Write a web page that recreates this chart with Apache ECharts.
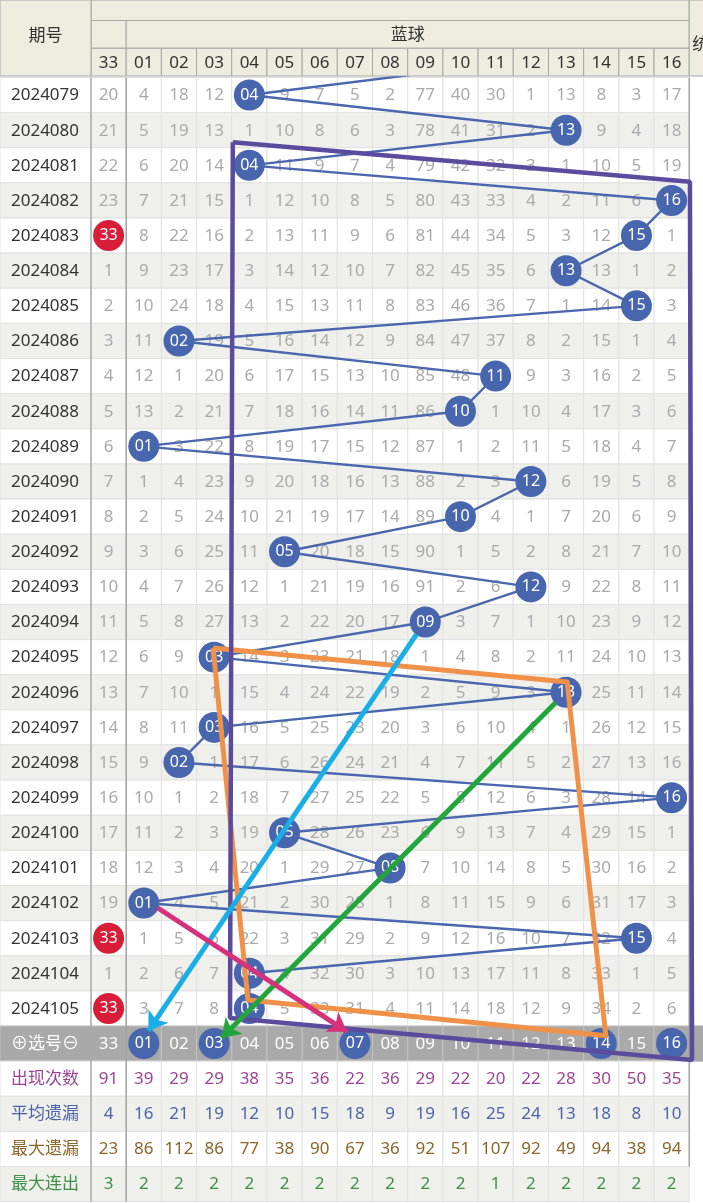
<!DOCTYPE html>
<html><head><meta charset="utf-8">
<script src="https://cdn.jsdelivr.net/npm/echarts@6/dist/echarts.min.js"></script>
<style>html,body{margin:0;padding:0;background:#fff}#c{width:703px;height:1203px}</style>
</head><body><div id="c"></div>
<script>
// ---------------- DATA ----------------
const periods = ['2024079','2024080','2024081','2024082','2024083','2024084','2024085','2024086','2024087','2024088','2024089','2024090','2024091','2024092','2024093','2024094','2024095','2024096','2024097','2024098','2024099','2024100','2024101','2024102','2024103','2024104','2024105'];
const columns = ['33','01','02','03','04','05','06','07','08','09','10','11','12','13','14','15','16'];
// omission per period per column (0 = drawn in that period)
const omissions = [
 [20,4,18,12,0,9,7,5,2,77,40,30,1,13,8,3,17],
 [21,5,19,13,1,10,8,6,3,78,41,31,2,0,9,4,18],
 [22,6,20,14,0,11,9,7,4,79,42,32,3,1,10,5,19],
 [23,7,21,15,1,12,10,8,5,80,43,33,4,2,11,6,0],
 [0,8,22,16,2,13,11,9,6,81,44,34,5,3,12,0,1],
 [1,9,23,17,3,14,12,10,7,82,45,35,6,0,13,1,2],
 [2,10,24,18,4,15,13,11,8,83,46,36,7,1,14,0,3],
 [3,11,0,19,5,16,14,12,9,84,47,37,8,2,15,1,4],
 [4,12,1,20,6,17,15,13,10,85,48,0,9,3,16,2,5],
 [5,13,2,21,7,18,16,14,11,86,0,1,10,4,17,3,6],
 [6,0,3,22,8,19,17,15,12,87,1,2,11,5,18,4,7],
 [7,1,4,23,9,20,18,16,13,88,2,3,0,6,19,5,8],
 [8,2,5,24,10,21,19,17,14,89,0,4,1,7,20,6,9],
 [9,3,6,25,11,0,20,18,15,90,1,5,2,8,21,7,10],
 [10,4,7,26,12,1,21,19,16,91,2,6,0,9,22,8,11],
 [11,5,8,27,13,2,22,20,17,0,3,7,1,10,23,9,12],
 [12,6,9,0,14,3,23,21,18,1,4,8,2,11,24,10,13],
 [13,7,10,1,15,4,24,22,19,2,5,9,3,0,25,11,14],
 [14,8,11,0,16,5,25,23,20,3,6,10,4,1,26,12,15],
 [15,9,0,1,17,6,26,24,21,4,7,11,5,2,27,13,16],
 [16,10,1,2,18,7,27,25,22,5,8,12,6,3,28,14,0],
 [17,11,2,3,19,0,28,26,23,6,9,13,7,4,29,15,1],
 [18,12,3,4,20,1,29,27,0,7,10,14,8,5,30,16,2],
 [19,0,4,5,21,2,30,28,1,8,11,15,9,6,31,17,3],
 [0,1,5,6,22,3,31,29,2,9,12,16,10,7,32,0,4],
 [1,2,6,7,0,4,32,30,3,10,13,17,11,8,33,1,5],
 [0,3,7,8,0,5,33,31,4,11,14,18,12,9,34,2,6]
];
const prevPeriodBlue = '12';           // blue ball of the period just above 2024079
const selection = ['01','03','07','14','16'];
const selectLabel = '⊕选号⊖';
const statLabels = ['出现次数','平均遗漏','最大遗漏','最大连出'];
const appearCount = [91,39,29,29,38,35,36,22,36,29,22,20,22,28,30,50,35];
const avgOmission = [4,16,21,19,12,10,15,18,9,19,16,25,24,13,18,8,10];
const maxOmission = [23,86,112,86,77,38,90,67,36,92,51,107,92,49,94,38,94];
const maxStreak   = [3,2,2,2,2,2,2,2,2,2,2,1,2,2,2,2,2];
const headerTitle = '期号';
const groupTitle = '蓝球';
// hand-drawn annotations, in (column index, row index) units
const purpleBox = [[3.53,1.34],[16.52,2.47],[16.58,27.47],[3.45,26.27],[3.53,1.34]];
const orangeBox = [[2.97,15.74],[13.03,16.71],[14.13,26.78],[3.96,25.76],[2.97,15.74]];
const cyanArrow = [[8.75,15.35],[1.13,26.64]];
const greenArrow = [[12.70,17.30],[3.21,26.84]];
const pinkArrow = [[1.40,23.14],[6.77,26.66]];

// ---------------- LAYOUT / STYLE ----------------
const FONT = '"Noto Sans","Noto Sans CJK SC",sans-serif';
const W = 703, COLW = 35.19, ROWH = 35.13;
const LEFT = 91, TOP = 77.5, HEAD_H = 76;
const NROWS = periods.length + 1 + statLabels.length;
const XMAX = -0.5 + (W - LEFT) / COLW;
const SEL_ROW = periods.length;
const statColors = ['#9c4494','#4b64a9','#8b6529','#3e9146'];
const statValues = [appearCount, avgOmission, maxOmission, maxStreak];
const BLUE = '#4766ae', RED = '#d71d38', BEIGE = '#eeebdf', GRAYROW = '#efefeb', SELGRAY = '#a9a9a9';
const HEDGES = [0, 0.27, 0.635, 1];

function rectOf(api, x0, x1, y0, y1) {
  const a = api.coord([x0, y0]), b = api.coord([x1, y1]);
  return {x: Math.min(a[0], b[0]), y: Math.min(a[1], b[1]), width: Math.abs(b[0]-a[0]), height: Math.abs(b[1]-a[1])};
}
function txt(t, x, y, fill, size, align) {
  return {type:'text', style:{text:t, x:x, y:y, fill:fill, fontSize:size||17, fontFamily:FONT,
    align:align||'center', verticalAlign:'middle', textAlign:align||'center', textVerticalAlign:'middle'}};
}
function rowFill(r){ return r === SEL_ROW ? SELGRAY : (r % 2 ? GRAYROW : '#ffffff'); }

// ---------- main body cells ----------
const bodyCells = [];
for (let r = 0; r < NROWS; r++) {
  for (let c = 0; c < columns.length; c++) {
    let t = null, color = '#aaaaaa';
    if (r < SEL_ROW) { const v = omissions[r][c]; if (v !== 0) t = String(v); }
    else if (r === SEL_ROW) { if (selection.indexOf(columns[c]) < 0) { t = columns[c]; color = '#ffffff'; } }
    else { const k = r - SEL_ROW - 1; t = String(statValues[k][c]); color = statColors[k]; }
    bodyCells.push({x0:c-0.5, x1:c+0.5, r:r, fill:rowFill(r), stroke: r === SEL_ROW ? '#c2c2c2' : '#e1e1e1', t:t, color:color});
  }
}
bodyCells.push({x0:16.5, x1:XMAX, r:SEL_ROW, fill:SELGRAY, stroke:SELGRAY, t:null});

// ---------- period column ----------
const periodCells = [];
for (let r = 0; r < NROWS; r++) {
  let t, color = '#333333';
  if (r < SEL_ROW) t = periods[r];
  else if (r === SEL_ROW) { t = selectLabel; color = '#ffffff'; }
  else { t = statLabels[r-SEL_ROW-1]; color = statColors[r-SEL_ROW-1]; }
  periodCells.push({r:r, t:t, color:color, fill:rowFill(r)});
}

// ---------- header ----------
const headerCells = [];
headerCells.push({x0:-0.5, x1:16.5, y0:HEDGES[0], y1:HEDGES[1], t:null});
headerCells.push({x0:-0.5, x1:0.5, y0:HEDGES[1], y1:HEDGES[2], t:null});
headerCells.push({x0:0.5, x1:16.5, y0:HEDGES[1], y1:HEDGES[2], t:groupTitle});
columns.forEach((c, i) => headerCells.push({x0:i-0.5, x1:i+0.5, y0:HEDGES[2], y1:HEDGES[3], t:c}));
headerCells.push({x0:16.5, x1:XMAX+1, y0:0, y1:1, t:'统', left:true});

// ---------- balls & trend ----------
const balls = [];
const trend = [[columns.indexOf(prevPeriodBlue), -1]];
omissions.forEach((row, r) => {
  if (row[0] === 0) balls.push({value:[0, r], name:columns[0], itemStyle:{color:RED, opacity:1}});
  for (let c = 1; c < row.length; c++) if (row[c] === 0) {
    balls.push({value:[c, r], name:columns[c], itemStyle:{color:BLUE, opacity:1}});
    trend.push([c, r]);
  }
});
selection.forEach(s => balls.push({value:[columns.indexOf(s), SEL_ROW], name:s, itemStyle:{color:BLUE, opacity:1}}));

const chart = echarts.init(document.getElementById('c'), null, {renderer:'canvas'});
const yBody = {min:-0.5, max:NROWS-0.5, inverse:true, show:false};
chart.setOption({
  animation:false,
  backgroundColor:'#ffffff',
  grid:[
    {left:LEFT, top:TOP, width:W-LEFT, height:NROWS*ROWH},
    {left:0, top:TOP, width:LEFT, height:NROWS*ROWH},
    {left:LEFT, top:0, width:W-LEFT, height:HEAD_H},
    {left:0, top:0, width:LEFT, height:HEAD_H}
  ],
  xAxis:[
    {gridIndex:0, type:'value', min:-0.5, max:XMAX, show:false},
    {gridIndex:1, type:'value', min:-0.5, max:0.5, show:false},
    {gridIndex:2, type:'value', min:-0.5, max:XMAX, show:false},
    {gridIndex:3, type:'value', min:-0.5, max:0.5, show:false}
  ],
  yAxis:[
    Object.assign({gridIndex:0, type:'value'}, yBody),
    Object.assign({gridIndex:1, type:'value'}, yBody),
    {gridIndex:2, type:'value', min:0, max:1, inverse:true, show:false},
    {gridIndex:3, type:'value', min:0, max:1, inverse:true, show:false}
  ],
  series:[
    { // body cells
      type:'custom', xAxisIndex:0, yAxisIndex:0, z:1, silent:true,
      data: bodyCells.map(d => [(d.x0+d.x1)/2, d.r]),
      renderItem:(p, api) => {
        const d = bodyCells[p.dataIndex];
        const rc = rectOf(api, d.x0, d.x1, d.r-0.5, d.r+0.5);
        const ch = [{type:'rect', shape:rc, style:{fill:d.fill, stroke:d.stroke, lineWidth:1}}];
        if (d.t) ch.push(txt(d.t, rc.x+rc.width/2, rc.y+rc.height/2+0.5, d.color, 17));
        return {type:'group', children:ch};
      }
    },
    { // column separators
      type:'custom', xAxisIndex:0, yAxisIndex:0, z:3, silent:true,
      data:[[-0.5, NROWS-0.5], [0.5, NROWS-0.5], [16.5, NROWS-1.5]],
      renderItem:(p, api) => {
        const a = api.coord([api.value(0), -0.5]), b = api.coord([api.value(0), api.value(1)]);
        const col = ['#a3a3a3','#9a9a9a','#9a9a9a'][p.dataIndex];
        return {type:'line', shape:{x1:a[0], y1:a[1], x2:b[0], y2:b[1]}, style:{stroke:col, lineWidth:1.3}};
      }
    },
    { // trend line
      type:'line', xAxisIndex:0, yAxisIndex:0, z:4, data:trend, symbol:'none', clip:true, silent:true,
      lineStyle:{color:'#4a67ad', width:2.4}
    },
    { // balls
      type:'scatter', xAxisIndex:0, yAxisIndex:0, z:5, data:balls, symbolSize:31, silent:true,
      itemStyle:{opacity:1},
      label:{show:true, position:'inside', formatter:'{b}', color:'#fff', fontSize:16, fontFamily:FONT}
    },
    {
      type:'line', xAxisIndex:0, yAxisIndex:0, z:6, data:orangeBox, symbol:'none', silent:true,
      lineStyle:{color:'#f0914a', width:5, join:'round'}
    },
    {
      type:'line', xAxisIndex:0, yAxisIndex:0, z:6, data:purpleBox, symbol:'none', silent:true,
      lineStyle:{color:'#5b4b9d', width:4.5}
    },
    {
      type:'lines', coordinateSystem:'cartesian2d', xAxisIndex:0, yAxisIndex:0, z:7, silent:true,
      symbol:['none','arrow'], symbolSize:[1,18],
      data:[
        {coords:cyanArrow, lineStyle:{color:'#1aaee6', width:5}},
        {coords:greenArrow, lineStyle:{color:'#22a63b', width:5}},
        {coords:pinkArrow, lineStyle:{color:'#d6327b', width:5}}
      ],
      lineStyle:{opacity:1, curveness:0}
    },
    { // period column
      type:'custom', xAxisIndex:1, yAxisIndex:1, z:1, silent:true,
      data: periodCells.map(d => [0, d.r]),
      renderItem:(p, api) => {
        const d = periodCells[p.dataIndex];
        const rc = rectOf(api, -0.5, 0.5, d.r-0.5, d.r+0.5);
        return {type:'group', children:[
          {type:'rect', shape:rc, style:{fill:d.fill, stroke: d.r === SEL_ROW ? '#c2c2c2' : '#e1e1e1', lineWidth:1}},
          txt(d.t, rc.x+rc.width/2 - 0.5, rc.y+rc.height/2+0.5, d.color, 17)
        ]};
      }
    },
    { // header
      type:'custom', xAxisIndex:2, yAxisIndex:2, z:1, silent:true,
      data: headerCells.map(d => [(d.x0+d.x1)/2, (d.y0+d.y1)/2]),
      renderItem:(p, api) => {
        const d = headerCells[p.dataIndex];
        const rc = rectOf(api, d.x0, d.x1, d.y0, d.y1);
        const ch = [{type:'rect', shape:rc, style:{fill:BEIGE, stroke:'#a6a6a6', lineWidth:1}}];
        if (d.t) {
          if (d.left) ch.push(txt(d.t, rc.x+3, rc.y+rc.height*0.6, '#333', 17, 'left'));
          else ch.push(txt(d.t, rc.x+rc.width/2, rc.y+rc.height/2+1, '#333', 17));
        }
        return {type:'group', children:ch};
      }
    },
    { // header period title
      type:'custom', xAxisIndex:3, yAxisIndex:3, z:1, silent:true,
      data:[[0, 0.5]],
      renderItem:(p, api) => {
        const rc = rectOf(api, -0.5, 0.5, 0, 1);
        return {type:'group', children:[
          {type:'rect', shape:rc, style:{fill:BEIGE, stroke:'#a6a6a6', lineWidth:1}},
          txt(headerTitle, rc.x+rc.width/2, rc.y+rc.height*0.48, '#333', 17)
        ]};
      }
    }
  ]
});
</script></body></html>
